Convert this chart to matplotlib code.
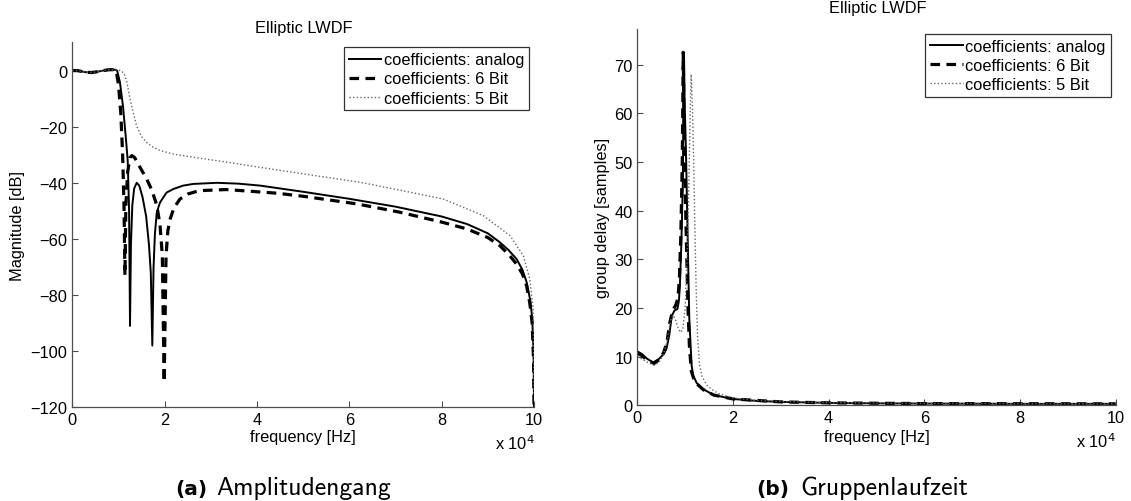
import matplotlib
matplotlib.use("Agg")
import matplotlib.pyplot as plt
import numpy as np

plt.rcParams['font.family'] = ['Liberation Sans', 'DejaVu Sans']
plt.rcParams['axes.unicode_minus'] = True

# ---------------- data (frequency in units of 1e4 Hz) ----------------
mag_analog_f = [0, 0.1, 0.2, 0.3, 0.42, 0.55, 0.67, 0.8, 0.925, 0.97, 1.03, 1.10, 1.16,
                1.20, 1.23, 1.25, 1.27, 1.30, 1.34, 1.395, 1.45, 1.52, 1.60, 1.66, 1.70,
                1.733, 1.76, 1.79, 1.83, 1.90, 2.04, 2.19, 2.4, 2.62, 3.13, 3.6, 4.07,
                5.0, 6.0, 7.0, 8.0, 8.55, 9.0, 9.26, 9.45, 9.62, 9.75, 9.84, 9.92, 9.96,
                9.99, 10.0]
mag_analog_db = [0, 0, -0.3, -0.6, -0.7, -0.4, 0, 0.3, 0.3, 0, -4, -13, -24,
                 -32, -50, -91, -62, -48, -42, -40, -41, -45, -52, -62, -72,
                 -98, -70, -58, -50.5, -47, -43.5, -42.2, -41, -40.4, -40, -40.3, -41,
                 -43.2, -45.7, -48.5, -52, -54.7, -58, -61.2, -64, -67.1, -71, -75.4, -82, -88,
                 -100, -120]

mag_6bit_f = [0, 0.1, 0.2, 0.3, 0.42, 0.55, 0.67, 0.8, 0.925, 0.95, 1.0, 1.05, 1.09, 1.12,
              1.14, 1.16, 1.20, 1.25, 1.29, 1.35, 1.45, 1.61, 1.72, 1.83, 1.90, 1.95,
              1.99, 2.03, 2.07, 2.12, 2.2, 2.33, 2.5, 2.75, 3.34, 4.43, 5.0, 6.16, 7.1,
              8.0, 8.54, 9.0, 9.26, 9.45, 9.62, 9.75, 9.84, 9.91, 9.96, 9.99, 10.0]
mag_6bit_db = [0, 0, -0.3, -0.6, -0.7, -0.4, 0, 0.3, 0.3, 0, -5, -15, -30, -48,
               -73, -48, -36, -31, -30.3, -31, -34, -38.6, -42.5, -48, -55, -66,
               -111, -66, -57, -52.9, -49, -45.8, -44, -42.8, -42.4, -43.7, -44.8, -47.5, -50.5,
               -54, -56.4, -59.5, -62.4, -65.5, -68.9, -72.5, -76.7, -83, -90, -103, -120]

mag_5bit_f = [0, 0.1, 0.2, 0.3, 0.42, 0.55, 0.67, 0.8, 0.95, 1.05, 1.12, 1.18, 1.25, 1.32,
              1.39, 1.5, 1.61, 1.75, 1.9, 2.2, 2.62, 3.3, 4.07, 5.0, 6.23, 7.0, 8.04, 8.9,
              9.48, 9.77, 9.91, 9.98, 10.0]
mag_5bit_db = [0, 0, -0.3, -0.6, -0.7, -0.4, 0, 0.3, 0.2, 0, -1, -4, -10, -15,
               -19.6, -23.5, -25.6, -27.3, -28.5, -29.8, -30.9, -32.5, -34.5, -36.8, -39.8, -42.3, -45.8, -51.7,
               -58.8, -66, -74.3, -85, -115]

gd_analog_f = [0, 0.1, 0.2, 0.33, 0.45, 0.55, 0.61, 0.67, 0.72, 0.78, 0.84, 0.87, 0.89, 0.92,
               0.95, 0.965, 0.976, 0.99, 1.018, 1.045, 1.07, 1.087, 1.136, 1.17, 1.24, 1.38,
               1.6, 2.0, 2.5, 3.0, 4.0, 5.0, 6.0, 8.0, 10.0]
gd_analog = [11.1, 10.5, 9.6, 8.8, 9.5, 10.5, 11.6, 14.5, 18.4, 19.5, 19.8, 21.5, 24.6, 33,
             45, 60, 72.2, 62, 51.9, 38.3, 26, 17.7, 8.1, 6.1, 4.6, 3.3,
             2.1, 1.3, 0.9, 0.7, 0.5, 0.4, 0.35, 0.3, 0.3]

gd_6bit_f = [0, 0.1, 0.2, 0.35, 0.45, 0.55, 0.62, 0.68, 0.74, 0.8, 0.85, 0.88, 0.91, 0.94,
             0.96, 0.975, 1.0, 1.03, 1.06, 1.09, 1.13, 1.2, 1.38, 1.6, 2.0, 3.0, 4.0, 6.0, 10.0]
gd_6bit = [10.7, 10.2, 9.3, 8.6, 9.3, 10.8, 13, 17, 19.5, 20.5, 22, 26, 35, 50,
           72.5, 60, 45, 32, 20, 12, 7, 4.8, 3.2, 2.1, 1.3, 0.7, 0.5, 0.35, 0.3]

gd_5bit_f = [0, 0.1, 0.2, 0.35, 0.45, 0.55, 0.63, 0.7, 0.75, 0.8, 0.85, 0.9, 0.95, 1.0,
             1.04, 1.07, 1.09, 1.11, 1.125, 1.15, 1.18, 1.20, 1.23, 1.26, 1.30, 1.35,
             1.45, 1.55, 1.7, 2.0, 2.5, 3.0, 4.0, 6.0, 10.0]
gd_5bit = [10.0, 9.5, 8.9, 8.2, 8.8, 10.5, 13.5, 17.5, 18.5, 17.5, 16, 15, 15.5, 20,
           30, 42, 52, 62, 68, 62, 50, 38, 24, 14, 8.5, 6,
           4.2, 3.3, 2.4, 1.5, 1.0, 0.8, 0.55, 0.4, 0.3]

legend_labels = ['coefficients: analog', 'coefficients: 6 Bit', 'coefficients: 5 Bit']
xticks = [0, 2, 4, 6, 8, 10]
mag_yticks = [-120, -100, -80, -60, -40, -20, 0]
gd_yticks = [0, 10, 20, 30, 40, 50, 60, 70]

# ---------------- figure ----------------
W, H = 1131, 502
fig = plt.figure(figsize=(W / 100, H / 100), dpi=100)

def px(x, y):
    return x / W, 1 - y / H

FS = 11.8
styles = [dict(color='black', lw=1.4, ls='-'),
          dict(color='black', lw=2.3, ls=(0, (3, 2))),
          dict(color='0.4', lw=1.0, ls=(0, (1, 1.6)))]

def style_axes(ax):
    for s in ['top', 'right']:
        ax.spines[s].set_visible(False)
    for s in ['left', 'bottom']:
        ax.spines[s].set_color('0.3')
        ax.spines[s].set_linewidth(0.9)
    ax.tick_params(direction='in', length=4, width=0.8, color='0.3',
                   labelsize=FS, pad=3.5)

# left axes
ax1 = fig.add_axes([72.3 / W, 1 - 408.3 / H, (534 - 72.3) / W, (408.3 - 43.5) / H])
ax1.plot(mag_analog_f, mag_analog_db, label=legend_labels[0], **styles[0])
ax1.plot(mag_6bit_f, mag_6bit_db, label=legend_labels[1], **styles[1])
ax1.plot(mag_5bit_f, mag_5bit_db, label=legend_labels[2], **styles[2])
ax1.set_xlim(0, 10)
ax1.set_ylim(-120, 10)
ax1.set_xticks(xticks)
ax1.set_yticks(mag_yticks)
style_axes(ax1)

# right axes
ax2 = fig.add_axes([637.3 / W, 1 - 406.3 / H, (1115.7 - 637.3) / W, (406.3 - 30) / H])
ax2.plot(gd_analog_f, gd_analog, label=legend_labels[0], **styles[0])
ax2.plot(gd_6bit_f, gd_6bit, label=legend_labels[1], **styles[1])
ax2.plot(gd_5bit_f, gd_5bit, label=legend_labels[2], **styles[2])
ax2.set_xlim(0, 10)
ax2.set_ylim(0, 77.3)
ax2.set_xticks(xticks)
ax2.set_yticks(gd_yticks)
style_axes(ax2)

for ax in (ax1, ax2):
    leg = ax.legend(loc='upper right', fontsize=FS, frameon=True, fancybox=False,
                    borderaxespad=0.3, borderpad=0.3, labelspacing=0.25,
                    handlelength=2.0, handletextpad=0.15)
    leg.get_frame().set_edgecolor('black')
    leg.get_frame().set_linewidth(0.9)

# labels
fig.text(*px(303, 438), 'frequency [Hz]', ha='center', va='center', fontsize=FS)
fig.text(*px(876.5, 438), 'frequency [Hz]', ha='center', va='center', fontsize=FS)
fig.text(*px(535, 450), r'x 10$^{4}$', ha='right', va='baseline', fontsize=FS)
fig.text(*px(1115.7, 448), r'x 10$^{4}$', ha='right', va='baseline', fontsize=FS)
fig.text(*px(18, 226), 'Magnitude [dB]', ha='center', va='center', rotation=90, fontsize=FS)
fig.text(*px(603, 218), 'group delay [samples]', ha='center', va='center', rotation=90, fontsize=FS)
fig.text(*px(304, 29), 'Elliptic LWDF', ha='center', va='center', fontsize=FS)
fig.text(*px(878, 8), 'Elliptic LWDF', ha='center', va='center', fontsize=FS)

# captions
cap_fs = 18.5
fig.text(*px(207, 495), '(a)', ha='right', va='baseline', fontsize=14.5,
         fontweight='bold', family=['DejaVu Sans'])
fig.text(*px(216, 495), 'Amplitudengang', ha='left', va='baseline', fontsize=cap_fs,
         family=['cmss10', 'DejaVu Sans'])
fig.text(*px(789, 495), '(b)', ha='right', va='baseline', fontsize=14.5,
         fontweight='bold', family=['DejaVu Sans'])
fig.text(*px(800, 495), 'Gruppenlaufzeit', ha='left', va='baseline', fontsize=cap_fs,
         family=['cmss10', 'DejaVu Sans'])

fig.savefig('out.png', dpi=100)
